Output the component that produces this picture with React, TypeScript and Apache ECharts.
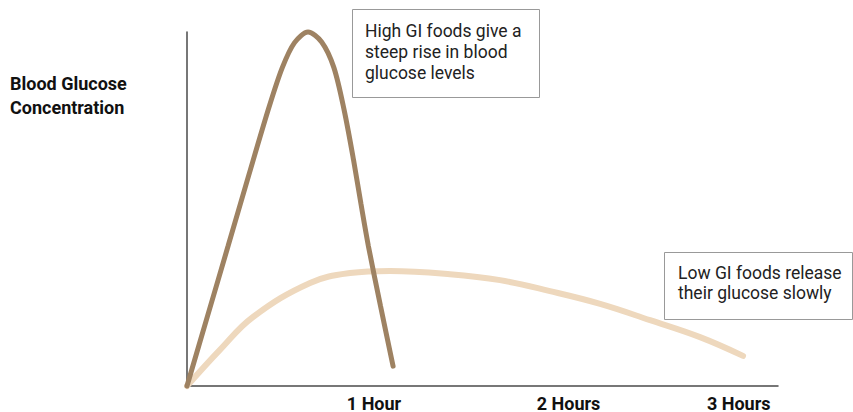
import React, { useEffect, useRef } from "react";
import * as echarts from "echarts";

// Hours after eating vs. blood glucose concentration (arbitrary units, 0–10)
const highGiHours = [0, 0.11, 0.22, 0.33, 0.44, 0.51, 0.575, 0.647, 0.72, 0.785, 0.84, 0.89, 0.93, 0.97, 1.035, 1.102];
const highGiLevel = [0, 1.98, 3.96, 5.95, 7.9, 9.0, 9.7, 10.0, 9.72, 9.0, 7.8, 6.4, 5.15, 3.95, 2.25, 0.56];

const lowGiHours = [0, 0.176, 0.353, 0.658, 0.872, 1.086, 1.406, 1.674, 1.941, 2.209, 2.476, 2.743, 2.973];
const lowGiLevel = [0, 1.02, 1.95, 2.91, 3.19, 3.25, 3.16, 2.99, 2.68, 2.32, 1.86, 1.38, 0.85];

const xTickLabels = ["1 Hour", "2 Hours", "3 Hours"];
const xTickAt = [1, 2.04, 2.95];

const yTitle = ["Blood Glucose", "Concentration"];
const highNote = ["High GI foods give a", "steep rise in blood", "glucose levels"];
const lowNote = ["Low GI foods release", "their glucose slowly"];

const FONT = "Roboto, 'Noto Sans', sans-serif";

export default function App() {
  const ref = useRef<HTMLDivElement>(null);
  useEffect(() => {
    if (!ref.current) return;
    const chart = echarts.init(ref.current, null, { renderer: "svg" });
    const zip = (xs: number[], ys: number[]) => xs.map((x, i) => [x, ys[i]]);
    chart.setOption({
      animation: false,
      backgroundColor: "#ffffff",
      grid: { left: 187, right: 75, top: 32, bottom: 26 },
      xAxis: {
        type: "value",
        min: 0,
        max: 3.16,
        axisLine: { show: true, lineStyle: { color: "#4a4a4a", width: 1.5 } },
        axisTick: { show: false },
        splitLine: { show: false },
        axisLabel: {
          customValues: xTickAt,
          formatter: (v: number) => {
            const i = xTickAt.findIndex((t) => Math.abs(t - v) < 1e-6);
            return i >= 0 ? xTickLabels[i] : "";
          },
          margin: 8,
          fontFamily: FONT,
          fontWeight: "bold",
          fontSize: 18,
          color: "#111",
        },
      },
      yAxis: {
        type: "value",
        min: 0,
        max: 10,
        axisLine: { show: true, lineStyle: { color: "#4a4a4a", width: 1.5 } },
        axisTick: { show: false },
        axisLabel: { show: false },
        splitLine: { show: false },
      },
      series: [
        {
          name: "Low GI",
          type: "line",
          smooth: 0.4,
          clip: false,
          showSymbol: false,
          data: zip(lowGiHours, lowGiLevel),
          lineStyle: { color: "#eed8bd", width: 6, cap: "round" },
        },
        {
          name: "High GI",
          type: "line",
          smooth: 0.3,
          clip: false,
          showSymbol: false,
          data: zip(highGiHours, highGiLevel),
          lineStyle: { color: "#9e8262", width: 5, cap: "round" },
        },
      ],
      graphic: [
        {
          type: "text",
          left: 10,
          top: 71,
          style: {
            text: yTitle.join("\n"),
            font: `bold 18px ${FONT}`,
            lineHeight: 24,
            fill: "#111",
          },
        },
        {
          type: "rect",
          shape: { x: 352.5, y: 9.5, width: 187, height: 88 },
          style: { fill: "#fff", stroke: "#999", lineWidth: 1 },
        },
        {
          type: "text",
          left: 365,
          top: 20,
          style: {
            text: highNote.join("\n"),
            font: `17.5px ${FONT}`,
            lineHeight: 21,
            fill: "#222",
          },
        },
        {
          type: "rect",
          shape: { x: 664.5, y: 252.5, width: 188, height: 67 },
          style: { fill: "#fff", stroke: "#999", lineWidth: 1 },
        },
        {
          type: "text",
          left: 678,
          top: 263,
          style: {
            text: lowNote.join("\n"),
            font: `17.5px ${FONT}`,
            lineHeight: 20,
            fill: "#222",
          },
        },
      ],
    });
    return () => chart.dispose();
  }, []);
  return (
    <div
      ref={ref}
      style={{ position: "fixed", left: 0, top: 0, width: 853, height: 412 }}
    />
  );
}
